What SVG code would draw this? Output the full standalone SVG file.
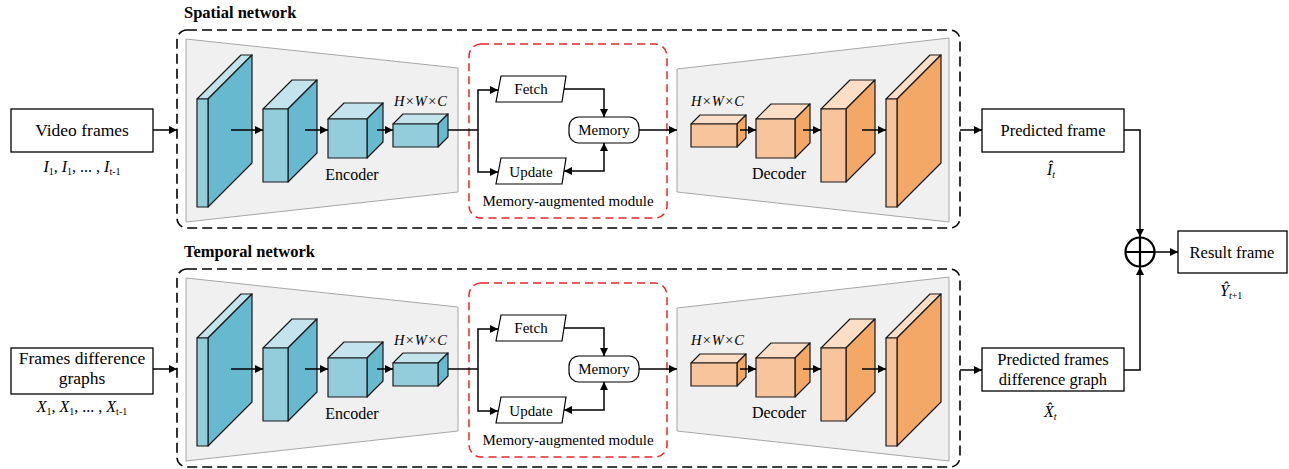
<svg xmlns="http://www.w3.org/2000/svg" width="1289" height="469" viewBox="0 0 1289 469" font-family="'Liberation Serif', 'Times New Roman', serif">
<defs>
<marker id="ah" viewBox="0 0 10 10" refX="10" refY="5" markerWidth="8" markerHeight="8" markerUnits="userSpaceOnUse" orient="auto-start-reverse">
<path d="M0,0 L10,5 L0,10 Z" fill="#000"/>
</marker>
<style>
text, tspan{font-family:"Liberation Serif","Times New Roman",serif !important}
text{fill:#000}
.t16{font-size:16px}
.t15{font-size:15px}
.lb{font-size:17.5px}
.rb{font-size:16.5px}
.it{font-style:italic}
.hdr{font-size:16.5px;font-weight:bold}
.box{fill:#fff;stroke:#000;stroke-width:1.3}
.dash{fill:none;stroke:#000;stroke-width:1.6;stroke-dasharray:10,5}
.rdash{fill:none;stroke:#e8262a;stroke-width:1.5;stroke-dasharray:8,5}
.trap{fill:#f0f0f0;stroke:#a6a6a6;stroke-width:1}
.ef{fill:#93cddb;stroke:#1a1a1a;stroke-width:1.2;stroke-linejoin:round}
.es{fill:#67b9cf;stroke:#1a1a1a;stroke-width:1.2;stroke-linejoin:round}
.et{fill:#c4e4ed;stroke:#1a1a1a;stroke-width:1.2;stroke-linejoin:round}
.df{fill:#f8c49c;stroke:#1a1a1a;stroke-width:1.2;stroke-linejoin:round}
.ds{fill:#f3a867;stroke:#1a1a1a;stroke-width:1.2;stroke-linejoin:round}
.dt{fill:#fcddc6;stroke:#1a1a1a;stroke-width:1.2;stroke-linejoin:round}
.pg{fill:#fff;stroke:#000;stroke-width:1.2}
.ln{fill:none;stroke:#000;stroke-width:1.5}
.ar{fill:none;stroke:#000;stroke-width:1.5;marker-end:url(#ah)}
.ar2{fill:none;stroke:#000;stroke-width:1.5;marker-start:url(#ah);marker-end:url(#ah)}
.hwc{font-size:14.5px;font-style:italic;letter-spacing:0.3px}
</style>
</defs>
<rect width="1289" height="469" fill="#fff"/>

<!-- ========== Spatial network ========== -->
<g id="spatial-network">
<text class="hdr" x="184" y="18">Spatial network</text>
<rect class="dash" x="177" y="30" width="783" height="198" rx="10"/>
</g>
<g id="spatial-encoder">
<polygon class="trap" points="186,39 458,68 458,192 186,222"/>
<polygon class="et" points="197,99 208,99 252,55 241,55"/>
<polygon class="es" points="208,99 252,55 252,163 208,207"/>
<rect class="ef" x="197" y="99" width="11" height="108"/>
<polygon class="et" points="263,109 288,109 317,80 292,80"/>
<polygon class="es" points="288,109 317,80 317,153 288,182"/>
<rect class="ef" x="263" y="109" width="25" height="73"/>
<polygon class="et" points="328,119 367,119 383,103 344,103"/>
<polygon class="es" points="367,119 383,103 383,142 367,158"/>
<rect class="ef" x="328" y="119" width="39" height="39"/>
<polygon class="et" points="393,124 438,124 448,114 403,114"/>
<polygon class="es" points="438,124 448,114 448,137 438,147"/>
<rect class="ef" x="393" y="124" width="45" height="23"/>
<text class="hwc" x="394" y="106">H×W×C</text>
<text class="t16" x="352" y="180" text-anchor="middle">Encoder</text>
</g>
<g id="spatial-memory-module">
<rect class="rdash" x="469" y="44" width="198" height="174" rx="12"/>
<text class="t15" x="568" y="206" text-anchor="middle">Memory-augmented module</text>
</g>
<g id="spatial-fetch">
<polygon class="pg" points="501,76 566,76 562,102 496,102"/>
<text class="t15" x="531" y="94" text-anchor="middle">Fetch</text>
</g>
<g id="spatial-update">
<polygon class="pg" points="501,158 566,158 562,184 496,184"/>
<text class="t15" x="531" y="177" text-anchor="middle">Update</text>
</g>
<g id="spatial-memory">
<rect class="pg" x="569" y="117" width="70" height="26" rx="10"/>
<text class="t15" x="604" y="135" text-anchor="middle">Memory</text>
</g>
<g id="spatial-decoder">
<polygon class="trap" points="677,69 949,38 949,222 677,192"/>
<polygon class="dt" points="691,124 737,124 746,115 700,115"/>
<polygon class="ds" points="737,124 746,115 746,138 737,147"/>
<rect class="df" x="691" y="124" width="46" height="23"/>
<polygon class="dt" points="756,119 795,119 810,104 771,104"/>
<polygon class="ds" points="795,119 810,104 810,143 795,158"/>
<rect class="df" x="756" y="119" width="39" height="39"/>
<polygon class="dt" points="821,109 846,109 875,80 850,80"/>
<polygon class="ds" points="846,109 875,80 875,153 846,182"/>
<rect class="df" x="821" y="109" width="25" height="73"/>
<polygon class="dt" points="886,99 897,99 941,55 930,55"/>
<polygon class="ds" points="897,99 941,55 941,163 897,207"/>
<rect class="df" x="886" y="99" width="11" height="108"/>
<text class="hwc" x="691" y="106">H×W×C</text>
<text class="t16" x="779" y="179" text-anchor="middle">Decoder</text>
</g>

<!-- ========== Temporal network ========== -->
<g id="temporal-network">
<text class="hdr" x="184" y="257">Temporal network</text>
<rect class="dash" x="177" y="269" width="783" height="198" rx="10"/>
</g>
<g id="temporal-encoder" transform="translate(0,239)">
<polygon class="trap" points="186,39 458,68 458,192 186,222"/>
<polygon class="et" points="197,99 208,99 252,55 241,55"/>
<polygon class="es" points="208,99 252,55 252,163 208,207"/>
<rect class="ef" x="197" y="99" width="11" height="108"/>
<polygon class="et" points="263,109 288,109 317,80 292,80"/>
<polygon class="es" points="288,109 317,80 317,153 288,182"/>
<rect class="ef" x="263" y="109" width="25" height="73"/>
<polygon class="et" points="328,119 367,119 383,103 344,103"/>
<polygon class="es" points="367,119 383,103 383,142 367,158"/>
<rect class="ef" x="328" y="119" width="39" height="39"/>
<polygon class="et" points="393,124 438,124 448,114 403,114"/>
<polygon class="es" points="438,124 448,114 448,137 438,147"/>
<rect class="ef" x="393" y="124" width="45" height="23"/>
<text class="hwc" x="394" y="106">H×W×C</text>
<text class="t16" x="352" y="180" text-anchor="middle">Encoder</text>
</g>
<g id="temporal-memory-module" transform="translate(0,239)">
<rect class="rdash" x="469" y="44" width="198" height="174" rx="12"/>
<text class="t15" x="568" y="206" text-anchor="middle">Memory-augmented module</text>
</g>
<g id="temporal-fetch" transform="translate(0,239)">
<polygon class="pg" points="501,76 566,76 562,102 496,102"/>
<text class="t15" x="531" y="94" text-anchor="middle">Fetch</text>
</g>
<g id="temporal-update" transform="translate(0,239)">
<polygon class="pg" points="501,158 566,158 562,184 496,184"/>
<text class="t15" x="531" y="177" text-anchor="middle">Update</text>
</g>
<g id="temporal-memory" transform="translate(0,239)">
<rect class="pg" x="569" y="117" width="70" height="26" rx="10"/>
<text class="t15" x="604" y="135" text-anchor="middle">Memory</text>
</g>
<g id="temporal-decoder" transform="translate(0,239)">
<polygon class="trap" points="677,69 949,38 949,222 677,192"/>
<polygon class="dt" points="691,124 737,124 746,115 700,115"/>
<polygon class="ds" points="737,124 746,115 746,138 737,147"/>
<rect class="df" x="691" y="124" width="46" height="23"/>
<polygon class="dt" points="756,119 795,119 810,104 771,104"/>
<polygon class="ds" points="795,119 810,104 810,143 795,158"/>
<rect class="df" x="756" y="119" width="39" height="39"/>
<polygon class="dt" points="821,109 846,109 875,80 850,80"/>
<polygon class="ds" points="846,109 875,80 875,153 846,182"/>
<rect class="df" x="821" y="109" width="25" height="73"/>
<polygon class="dt" points="886,99 897,99 941,55 930,55"/>
<polygon class="ds" points="897,99 941,55 941,163 897,207"/>
<rect class="df" x="886" y="99" width="11" height="108"/>
<text class="hwc" x="691" y="106">H×W×C</text>
<text class="t16" x="779" y="179" text-anchor="middle">Decoder</text>
</g>

<!-- ========== Inputs / outputs ========== -->
<g id="video-frames">
<rect class="box" x="11" y="109" width="142" height="43"/>
<text class="lb" x="82" y="136" text-anchor="middle">Video frames</text>
<text class="t16" x="82" y="172" text-anchor="middle"><tspan class="it">I</tspan><tspan font-size="10" dy="3">1</tspan><tspan dy="-3">, </tspan><tspan class="it">I</tspan><tspan font-size="10" dy="3">1</tspan><tspan dy="-3">, ... , </tspan><tspan class="it">I</tspan><tspan font-size="10" dy="3">t-1</tspan></text>
</g>
<g id="frames-difference-graphs">
<rect class="box" x="11" y="348" width="142" height="46"/>
<text class="lb" x="82" y="364" text-anchor="middle">Frames difference</text>
<text class="lb" x="82" y="384" text-anchor="middle">graphs</text>
<text class="t16" x="82" y="412" text-anchor="middle"><tspan class="it">X</tspan><tspan font-size="10" dy="3">1</tspan><tspan dy="-3">, </tspan><tspan class="it">X</tspan><tspan font-size="10" dy="3">1</tspan><tspan dy="-3">, ... , </tspan><tspan class="it">X</tspan><tspan font-size="10" dy="3">t-1</tspan></text>
</g>
<g id="predicted-frame">
<rect class="box" x="982" y="109" width="142" height="43"/>
<text class="rb" x="1053" y="136" text-anchor="middle">Predicted frame</text>
<text class="t16 it" x="1047" y="175">Î<tspan font-size="10" dy="3">t</tspan></text>
</g>
<g id="predicted-frames-difference-graph">
<rect class="box" x="982" y="348" width="142" height="43"/>
<text class="rb" x="1053" y="365" text-anchor="middle">Predicted frames</text>
<text class="rb" x="1053" y="385" text-anchor="middle">difference graph</text>
<text class="t16 it" x="1044" y="417">X̂<tspan font-size="10" dy="3">t</tspan></text>
</g>
<g id="sum">
<circle cx="1140" cy="252" r="14.5" fill="#fff" stroke="#000" stroke-width="2.2"/>
<path d="M1125.5,252 H1154.5 M1140,237.5 V266.5" stroke="#000" stroke-width="2.2" fill="none"/>
</g>
<g id="result-frame">
<rect class="box" x="1178" y="231" width="109" height="42"/>
<text class="rb" x="1232" y="258" text-anchor="middle">Result frame</text>
<text class="t16 it" x="1220" y="296">Ŷ<tspan font-size="10" dy="3">t</tspan><tspan font-size="10" font-style="normal">+1</tspan></text>
</g>

<!-- ========== Connectors ========== -->
<g id="connectors">
<path class="ar" d="M153,130 H177"/>
<path class="ar" d="M231,130 H263"/>
<path class="ar" d="M305,130 H328"/>
<path class="ar" d="M377,130 H393"/>
<path class="ln" d="M448,130 H478"/>
<path class="ar2" d="M498,90 H478 V172 H498"/>
<path class="ar" d="M564,89 H604 V117"/>
<path class="ar2" d="M604,143 V171 H564"/>
<path class="ar" d="M639,130 H677"/>
<path class="ar" d="M740,130 H756"/>
<path class="ar" d="M803,130 H821"/>
<path class="ar" d="M862,130 H886"/>
<path class="ar" d="M960,130 H982"/>

<path class="ar" d="M153,369 H177"/>
<path class="ar" d="M231,369 H263"/>
<path class="ar" d="M305,369 H328"/>
<path class="ar" d="M377,369 H393"/>
<path class="ln" d="M448,369 H478"/>
<path class="ar2" d="M498,329 H478 V411 H498"/>
<path class="ar" d="M564,328 H604 V356"/>
<path class="ar2" d="M604,382 V410 H564"/>
<path class="ar" d="M639,369 H677"/>
<path class="ar" d="M740,369 H756"/>
<path class="ar" d="M803,369 H821"/>
<path class="ar" d="M862,369 H886"/>
<path class="ar" d="M960,370 H982"/>

<path class="ar" d="M1124,130 H1140 V237"/>
<path class="ar" d="M1124,370 H1140 V267"/>
<path class="ar" d="M1155,252 H1178"/>
</g>
</svg>
